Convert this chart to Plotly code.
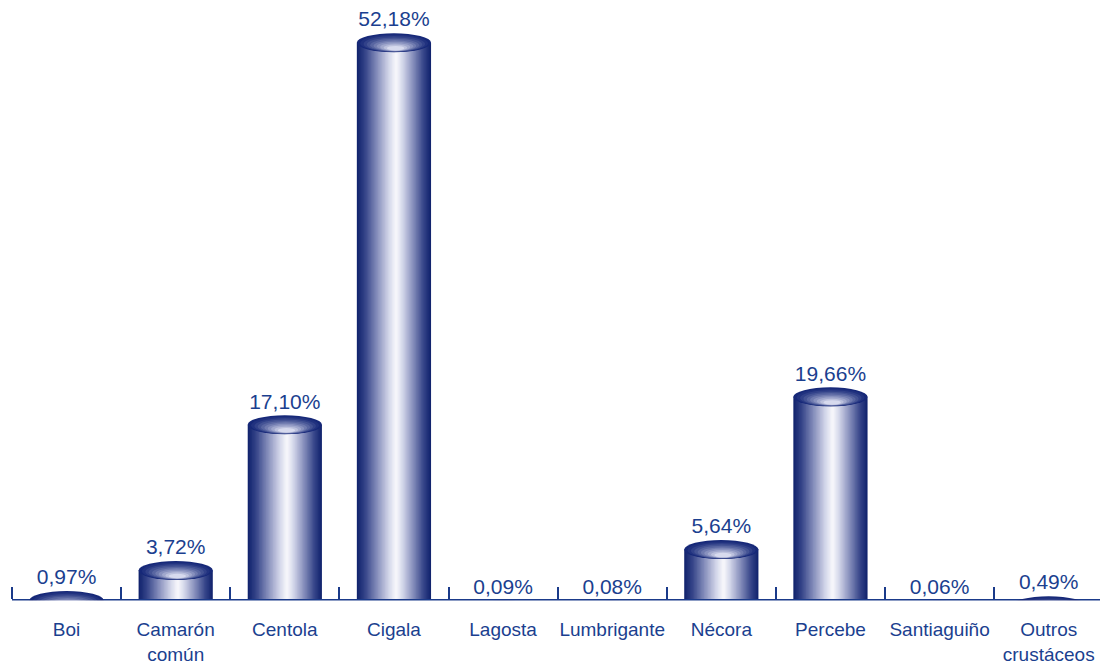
import plotly.graph_objects as go

categories = ["Boi", "Camarón<br>común", "Centola", "Cigala", "Lagosta", "Lumbrigante",
              "Nécora", "Percebe", "Santiaguiño", "Outros<br>crustáceos"]
values = [0.97, 3.72, 17.10, 52.18, 0.09, 0.08, 5.64, 19.66, 0.06, 0.49]
labels = ["0,97%", "3,72%", "17,10%", "52,18%", "0,09%", "0,08%", "5,64%", "19,66%", "0,06%", "0,49%"]

NAVY_TEXT = "#1b3f8f"
AXIS = "#1a3a8a"
FONT = "Liberation Sans, Arial"
BAR_W = 0.68
PEAK = 0.53  # fraction of width where highlight sits

W, H = 1100, 666
M_L, M_T = 12, 5
ZERO_PX = 611.5      # page y of value 0 (plot-area bottom)
AXIS_PX = 600        # page y of the drawn category axis
PLOT_H = ZERO_PX - M_T
Y_TOP = 55.64

def lerp(c1, c2, t):
    return tuple(int(round(a + (b - a) * t)) for a, b in zip(c1, c2))

stops = [(1.0, (18, 36, 110)), (0.8, (55, 70, 138)), (0.5, (135, 143, 188)),
         (0.2, (212, 215, 234)), (0.0, (252, 252, 254))]

def body_color(f):
    for (f1, c1), (f2, c2) in zip(stops[:-1], stops[1:]):
        if f2 <= f <= f1:
            t = (f1 - f) / (f1 - f2)
            return "rgb(%d,%d,%d)" % lerp(c1, c2, t)
    return "rgb(252,252,254)"

xs = list(range(len(categories)))
fig = go.Figure()
x0 = -BAR_W / 2
x1 = BAR_W / 2
p = x0 + PEAK * BAR_W
N = 28
for k in range(N):
    f = 1 - k / N
    left = p - f * (p - x0)
    right = p + f * (x1 - p)
    fig.add_trace(go.Bar(
        x=xs, y=values, width=right - left, offset=left,
        marker=dict(color=body_color(f), line=dict(width=0)),
        hoverinfo="skip", showlegend=False,
    ))

# value labels
fig.add_trace(go.Scatter(
    x=xs, y=values, mode="markers+text", text=labels, textposition="top center",
    marker=dict(size=16, color="rgba(0,0,0,0)"), cliponaxis=False,
    textfont=dict(size=21, color=NAVY_TEXT, family=FONT),
    hoverinfo="skip", showlegend=False,
))

# elliptical top faces
shapes = []
CAP_H = 19
M = 10
for i, v in enumerate(values):
    for k in range(M):
        g = 1 - k / M * 0.85
        col = lerp((22, 40, 120), (215, 218, 238), (k / (M - 1)) ** 1.3)
        w = BAR_W * g
        h = CAP_H * g
        cy = -(1 - g) * CAP_H * 0.38
        cx = i + (1 - g) * 0.02
        shapes.append(dict(
            type="circle", xref="x", yref="y", ysizemode="pixel", yanchor=v,
            x0=cx - w / 2, x1=cx + w / 2, y0=cy - h / 2, y1=cy + h / 2,
            fillcolor="rgb(%d,%d,%d)" % col, line=dict(width=0), layer="above",
        ))

# white floor strip below the category axis (perspective floor hides column bases)
axis_pos = (ZERO_PX - AXIS_PX) / PLOT_H
mask_top = (ZERO_PX - AXIS_PX - 1) / PLOT_H
shapes.append(dict(type="rect", xref="paper", yref="paper", x0=0, x1=1, y0=0, y1=mask_top,
                   fillcolor="white", line=dict(width=0), layer="above"))

fig.update_layout(
    barmode="overlay",
    width=W, height=H,
    margin=dict(l=M_L, r=0, t=M_T, b=H - ZERO_PX, autoexpand=False),
    paper_bgcolor="white", plot_bgcolor="white",
    shapes=shapes,
    xaxis=dict(
        tickmode="array", tickvals=xs, ticktext=categories,
        range=[-0.5, 9.47], showline=True, linecolor=AXIS, linewidth=2,
        anchor="free", position=axis_pos,
        ticks="", showgrid=False, zeroline=False, automargin=False,
        ticklabelstandoff=13,
        tickfont=dict(size=19, color=NAVY_TEXT, family=FONT),
        minor=dict(tickvals=[i - 0.5 for i in xs], ticks="inside", ticklen=12,
                   tickwidth=2, tickcolor=AXIS, showgrid=False),
    ),
    yaxis=dict(range=[0, Y_TOP], visible=False, showgrid=False, zeroline=False),
)

fig.write_html("out.html", config={"displayModeBar": False, "staticPlot": True},
               post_script="document.body.style.margin='0';")
